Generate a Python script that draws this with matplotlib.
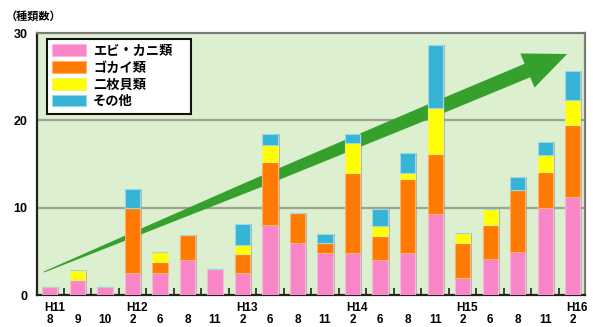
import numpy as np
import matplotlib
matplotlib.use("Agg")
import matplotlib.pyplot as plt
from matplotlib.patches import Patch, Polygon

plt.rcParams['font.family'] = ['Liberation Sans', 'Noto Sans CJK JP', 'DejaVu Sans']
plt.rcParams['font.weight'] = 'bold'

# survey months (H = Heisei year)
months = ['8', '9', '10', '2', '6', '8', '11', '2', '6', '8', '11',
          '2', '6', '8', '11', '2', '6', '8', '11', '2']
years = ['H11', 'H12', 'H13', 'H14', 'H15', 'H16']
year_pos = [0, 3, 7, 11, 15, 19]

series = ['エビ・カニ類', 'ゴカイ類', '二枚貝類', 'その他']
ebi_kani = [0.9, 1.8, 0.9, 2.6, 2.6, 4.0, 3.0, 2.6, 8.0, 6.0,
            4.8, 4.8, 4.0, 4.8, 9.3, 2.0, 4.1, 4.9, 10.0, 11.3]
gokai = [0, 0, 0, 7.4, 1.2, 2.9, 0, 2.1, 7.3, 3.4,
         1.2, 9.2, 2.8, 8.5, 6.9, 4.0, 3.9, 7.1, 4.1, 8.2]
nimaigai = [0, 1.1, 0, 0, 1.1, 0, 0, 1.0, 1.9, 0,
            0, 3.4, 1.1, 0.7, 5.2, 1.1, 1.9, 0, 2.0, 2.8]
sonota = [0, 0, 0, 2.2, 0, 0, 0, 2.4, 1.2, 0,
          1.0, 1.0, 2.0, 2.3, 7.2, 0, 0, 1.5, 1.4, 3.4]

colors = ['#f886c6', '#ff7a00', '#ffff00', '#35b4d6']
edges = ['#fbb8de', '#ffb070', '#f4f080', '#9ad8ea']

fig = plt.figure(figsize=(5.93, 3.27), dpi=100)
ax = fig.add_axes([37 / 593, 1 - 295.3 / 327, 548 / 593, 262.3 / 327])
ax.set_facecolor('#dcefcf')

x = np.arange(len(months))
w = 0.55
ax.set_xlim(-0.47, 19.45)
ax.set_ylim(0, 30)

# grid
for g in (10, 20):
    ax.axhline(g, color='#9fa494', lw=1.6, zorder=1)

# trend arrow (tapered), built in pixel space and mapped back to data
p0 = ax.transData.transform((-0.22, 2.66))
p1 = ax.transData.transform((18.8, 27.6))
d = p1 - p0
L = np.hypot(*d)
u = d / L
n = np.array([-u[1], u[0]])
t = np.array([0, 80, 235, 420, L - 43])
hw = np.array([0.5, 2.2, 5.2, 7.0, 7.3])
upper = [p0 + u * ti + n * h for ti, h in zip(t, hw)]
lower = [p0 + u * ti - n * h for ti, h in zip(t, hw)]
head = [p0 + u * t[-1] + n * 18.5, p1, p0 + u * t[-1] - n * 18.5]
pts = np.array(upper + head + lower[::-1])
pts = ax.transData.inverted().transform(pts)
ax.add_patch(Polygon(pts, closed=True, facecolor='#35a12c', edgecolor='none', zorder=2))

# stacked bars
data = [ebi_kani, gokai, nimaigai, sonota]
totals = np.sum(data, axis=0)
ax.bar(x + 0.07, totals, w, color='#8c8c8c', alpha=0.55, zorder=2.5)
bottom = np.zeros(len(months))
for vals, c, e in zip(data, colors, edges):
    vals = np.array(vals)
    ax.bar(x, vals, w, bottom=bottom, color=c, edgecolor=e, lw=0.8, zorder=3)
    bottom += vals

# axes styling
for s in ('left', 'bottom'):
    ax.spines[s].set_color('#222222')
    ax.spines[s].set_linewidth(1.6)
for s in ('top', 'right'):
    ax.spines[s].set_color('#7a7a7a')
    ax.spines[s].set_linewidth(1.6)

ax.set_yticks([0, 10, 20, 30])
ax.tick_params(axis='y', length=0, pad=7, labelsize=9)
ax.set_xticks(x, months)
ax.tick_params(axis='x', which='major', length=0, pad=13.5, labelsize=8.5)
ax.set_xticks(x[:-1] + 0.5, minor=True)
ax.tick_params(axis='x', which='minor', direction='in', length=5, width=1.2, color='#222222')

for yl, p in zip(years, year_pos):
    ax.text(p - 0.22, -0.0587, yl, transform=ax.get_xaxis_transform(),
            ha='left', va='baseline', fontsize=8.5, fontweight='bold')

fig.text(6 / 593, 1 - 20 / 327, '（種類数）', fontsize=8, fontweight='bold',
         ha='left', va='baseline')

handles = [Patch(facecolor=c, edgecolor=e, lw=0.8) for c, e in zip(colors, edges)]
leg = ax.legend(handles, series, loc='upper left',
                bbox_to_anchor=(0.018, 0.0, 0.263, 0.977), mode='expand',
                fancybox=False, framealpha=1, edgecolor='#111111', fontsize=9.5,
                handlelength=2.6, handleheight=0.95, labelspacing=0.28,
                handletextpad=0.5, borderpad=0.4, borderaxespad=0)
leg.get_frame().set_linewidth(1.5)
leg.set_zorder(5)

fig.savefig('out.png', dpi=100)
